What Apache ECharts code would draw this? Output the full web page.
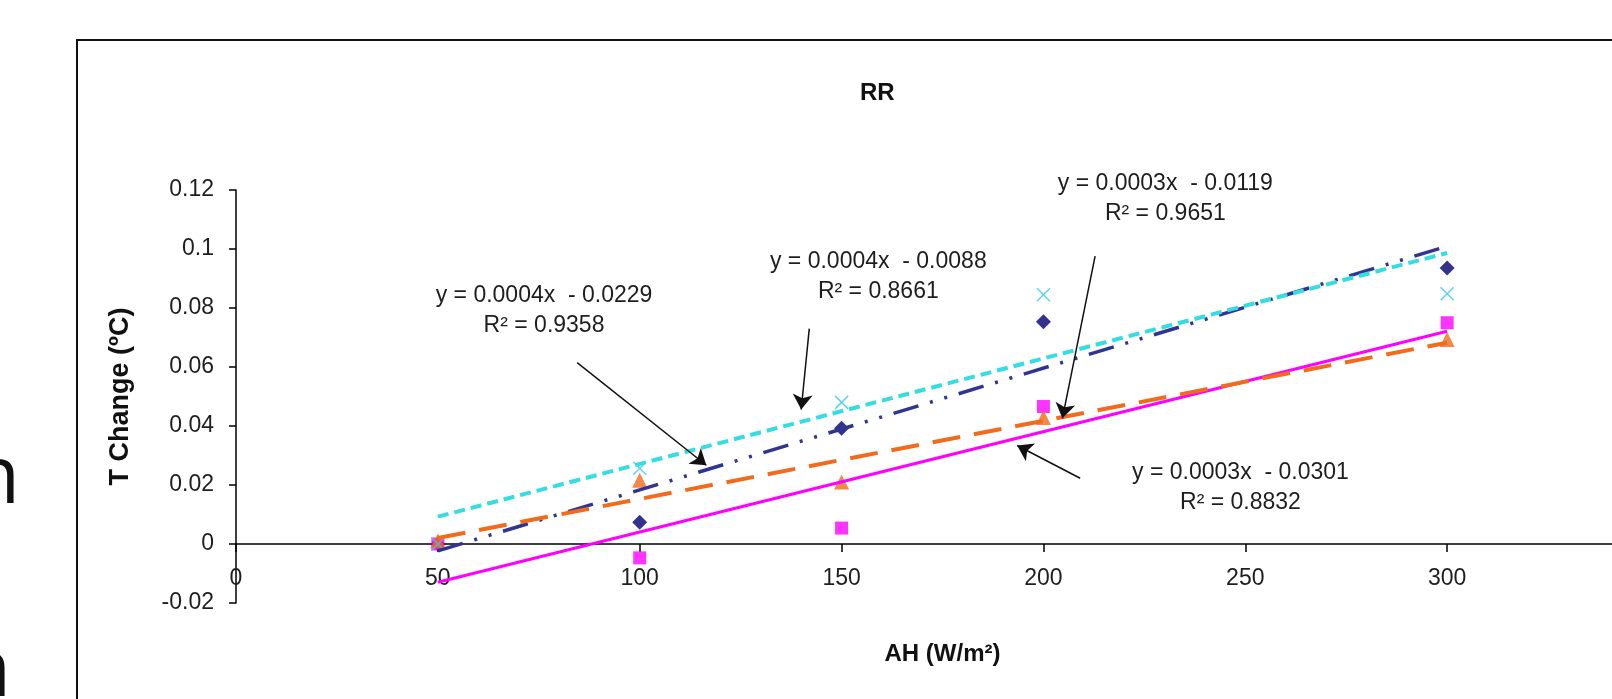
<!DOCTYPE html>
<html>
<head>
<meta charset="utf-8">
<title>RR</title>
<script src="https://cdn.jsdelivr.net/npm/echarts@6/dist/echarts.min.js"></script>
<style>
  html, body { margin: 0; padding: 0; background: #fff; }
  #chart { width: 1612px; height: 699px; }
</style>
</head>
<body>
<div id="chart"></div>
<script>
// AH levels (W/m2) on the x axis
const ahLevels = [50, 100, 150, 200, 300];

// T change
const navyValues = [0, 0.0074, 0.0392, 0.0753, 0.0936];
const magentaValues = [0, -0.0047, 0.0054, 0.0466, 0.075];
const orangeValues = [0.001, 0.0216, 0.021, 0.0429, 0.0693];
const cyanValues = [0, 0.0257, 0.048, 0.0845, 0.0848];

const yTicks = { min: -0.02, max: 0.12, step: 0.02 };
const xTicks = { min: 0, max: 350, step: 50 };

// trendline equations as printed on the chart (navy, cyan, orange, magenta)
const eqTexts = [
  'y = 0.0004x  - 0.0229\nR² = 0.9358',
  'y = 0.0004x  - 0.0088\nR² = 0.8661',
  'y = 0.0003x  - 0.0119\nR² = 0.9651',
  'y = 0.0003x  - 0.0301\nR² = 0.8832'
];
// where each equation sits and where its arrow runs, in data units
const eqLabelAt = [[76.3, 0.0791], [159.1, 0.0905], [230.2, 0.1172], [248.8, 0.0191]];
const arrowFrom = [[84.5, 0.0615], [142, 0.073], [212.8, 0.0976], [209.1, 0.0223]];
const arrowTo = [[116.5, 0.0267], [140, 0.0456], [204.7, 0.0426], [193.5, 0.0334]];

const FONT = '"Liberation Sans", Arial, sans-serif';
const TXT = '#1e1e1e';

// least squares line, drawn across the data range like Excel does
function trend(xs, ys) {
  const n = xs.length;
  const mx = xs.reduce((s, v) => s + v, 0) / n;
  const my = ys.reduce((s, v) => s + v, 0) / n;
  let sxy = 0, sxx = 0;
  xs.forEach((x, i) => { sxy += (x - mx) * (ys[i] - my); sxx += (x - mx) * (x - mx); });
  const b = sxy / sxx;
  const a = my - b * mx;
  const x0 = xs[0], x1 = xs[n - 1];
  return [[x0, a + b * x0], [x1, a + b * x1]];
}

const pairs = vals => ahLevels.map((x, i) => [x, vals[i]]);

const crossPath = 'path://M0,0L10,10M10,0L0,10';

const chart = echarts.init(document.getElementById('chart'));

const option = {
  animation: false,
  backgroundColor: '#fff',
  title: {
    text: 'RR',
    left: 855,
    top: 76,
    textStyle: { color: '#111', fontSize: 24, fontWeight: 'bold', fontFamily: FONT }
  },
  grid: { left: 236, top: 190, bottom: 96, right: -37, outerBoundsMode: 'none' },
  xAxis: {
    type: 'value',
    min: xTicks.min,
    max: xTicks.max,
    interval: xTicks.step,
    name: 'AH (W/m²)',
    nameLocation: 'middle',
    nameGap: 39,
    nameTextStyle: { color: '#111', fontSize: 24, fontWeight: 'bold', fontFamily: FONT },
    axisLine: { onZero: true, lineStyle: { color: '#000', width: 1.5 } },
    axisTick: { show: true, length: 8, lineStyle: { color: '#000', width: 1.5 } },
    // labels sit just under the zero line, not under the plot bottom
    axisLabel: { color: TXT, fontSize: 23, fontFamily: FONT, margin: -36 },
    splitLine: { show: false }
  },
  yAxis: {
    type: 'value',
    min: yTicks.min,
    max: yTicks.max,
    interval: yTicks.step,
    name: 'T Change (ºC)',
    nameLocation: 'middle',
    nameRotate: 90,
    nameGap: 102,
    nameTextStyle: { color: '#111', fontSize: 27, fontWeight: 'bold', fontFamily: FONT },
    axisLine: { show: true, lineStyle: { color: '#000', width: 1.5 } },
    axisTick: { show: true, length: 7, lineStyle: { color: '#000', width: 1.5 } },
    axisLabel: {
      color: TXT, fontSize: 23, fontFamily: FONT, margin: 22,
      formatter: v => String(+v.toFixed(2))
    },
    splitLine: { show: false }
  },
  graphic: [
    {
      type: 'rect', z: -1,
      shape: { x: 77, y: 40, width: 1700, height: 800 },
      style: { fill: 'none', stroke: '#111', lineWidth: 2 }
    },
    { type: 'text', left: -29, top: 440, style: { text: 'n', fontSize: 80, fontFamily: '"Open Sans", sans-serif', fill: '#111' } },
    { type: 'text', left: -38, top: 633, style: { text: 'n', fontSize: 80, fontFamily: '"Open Sans", sans-serif', fill: '#111' } }
  ],
  series: [
    {
      name: 'navy', type: 'scatter', z: 2,
      data: pairs(navyValues),
      symbol: 'diamond', symbolSize: 15,
      itemStyle: { color: '#000070' }
    },
    {
      name: 'magenta', type: 'scatter', z: 2,
      data: pairs(magentaValues),
      symbol: 'rect', symbolSize: 13,
      itemStyle: { color: '#ff00ff' }
    },
    {
      name: 'orange', type: 'scatter', z: 2,
      data: pairs(orangeValues),
      symbol: 'triangle', symbolSize: 15,
      itemStyle: { color: '#f26a1b' }
    },
    {
      name: 'cyan', type: 'scatter', z: 2,
      data: pairs(cyanValues),
      symbol: crossPath, symbolSize: 13,
      itemStyle: { color: 'transparent', borderColor: '#39c8e8', borderWidth: 1.5 }
    },
    {
      name: 'navy trend', type: 'line', z: 3,
      data: trend(ahLevels, navyValues), showSymbol: false,
      lineStyle: { color: '#2f3590', width: 3.5, type: [26, 12, 3, 12, 3, 12] }
    },
    {
      name: 'magenta trend', type: 'line', z: 3,
      data: trend(ahLevels, magentaValues), showSymbol: false,
      lineStyle: { color: '#ff00ff', width: 3 }
    },
    {
      name: 'orange trend', type: 'line', z: 3,
      data: trend(ahLevels, orangeValues), showSymbol: false,
      lineStyle: { color: '#f26a1b', width: 4, type: [28, 14] }
    },
    {
      name: 'cyan trend', type: 'line', z: 3,
      data: trend(ahLevels, cyanValues), showSymbol: false,
      lineStyle: { color: '#33dde0', width: 4, type: [11, 6] }
    },
    {
      name: 'notes', type: 'scatter', z: 4, silent: true,
      data: [],
      markPoint: {
        silent: true,
        symbol: 'circle', symbolSize: 1,
        itemStyle: { color: 'transparent' },
        label: {
          show: true, position: 'inside', color: TXT, fontSize: 23, lineHeight: 30,
          fontFamily: FONT, align: 'center'
        },
        data: eqTexts.map((t, i) => ({ coord: eqLabelAt[i], label: { formatter: t } }))
      },
      markLine: {
        silent: true,
        symbol: ['none', 'arrow'],
        symbolSize: 15,
        label: { show: false },
        lineStyle: { color: '#111', width: 1.5, type: 'solid' },
        data: arrowFrom.map((p, i) => [{ coord: p }, { coord: arrowTo[i] }])
      }
    }
  ]
};

chart.setOption(option);
window.addEventListener('resize', () => chart.resize());
</script>
</body>
</html>
